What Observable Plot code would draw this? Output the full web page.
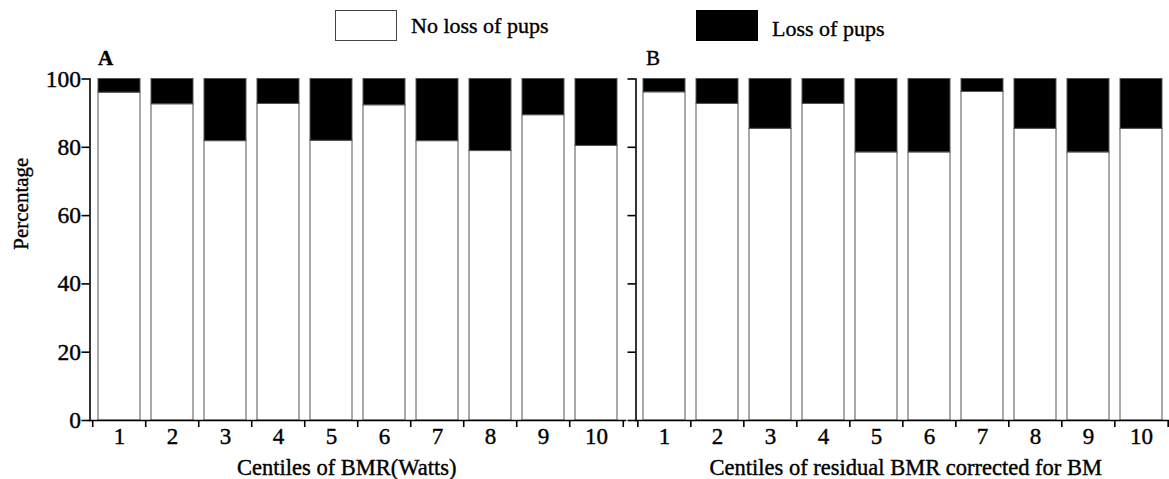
<!DOCTYPE html>
<html>
<head>
<meta charset="utf-8">
<script src="https://cdn.jsdelivr.net/npm/d3@7"></script>
<script src="https://cdn.jsdelivr.net/npm/@observablehq/plot@0.6"></script>
<style>
  html, body { margin: 0; padding: 0; background: white; }
  #root { position: relative; width: 1169px; height: 479px; overflow: hidden; font-family: "Liberation Serif", serif; color: black; }
  #root svg, #root svg text { font-family: "Liberation Serif", serif !important; }
  .sw { position: absolute; box-sizing: border-box; }
  .lt { position: absolute; font-size: 22px; line-height: 22px; white-space: nowrap; -webkit-text-stroke: 0.35px black; }
  .panel { position: absolute; top: 40px; }
</style>
</head>
<body>
<div id="root">
  <div class="sw" style="left:335px;top:10px;width:62px;height:31px;background:white;border:1.5px solid #444;"></div>
  <div class="lt" id="lg0" style="left:411px;top:14.5px;"></div>
  <div class="sw" style="left:696px;top:10px;width:62px;height:31px;background:black;"></div>
  <div class="lt" id="lg1" style="left:772px;top:17.5px;"></div>
  <div class="panel" id="pa" style="left:0px;"></div>
  <div class="panel" id="pb" style="left:627px;"></div>
</div>
<script>
const categories = ["1","2","3","4","5","6","7","8","9","10"];
const groups = ["No loss of pups", "Loss of pups"];
const yTicks = [0, 20, 40, 60, 80, 100];
const panelLetters = ["A", "B"];
const xLabels = ["Centiles of BMR(Watts)", "Centiles of residual BMR corrected for BM"];
const yLabel = "Percentage";

// Panel A: centiles of BMR
const noLossA = [96.0, 92.6, 81.8, 92.7, 81.9, 92.3, 81.8, 78.9, 89.4, 80.4];
const lossA   = [4.0, 7.4, 18.2, 7.3, 18.1, 7.7, 18.2, 21.1, 10.6, 19.6];
// Panel B: centiles of residual BMR
const noLossB = [96.1, 92.7, 85.4, 92.7, 78.5, 78.5, 96.2, 85.4, 78.5, 85.4];
const lossB   = [3.9, 7.3, 14.6, 7.3, 21.5, 21.5, 3.8, 14.6, 21.5, 14.6];

document.getElementById("lg0").textContent = groups[0];
document.getElementById("lg1").textContent = groups[1];

const FF = "Liberation Serif";
const TS = {textStroke: "black", textStrokeWidth: 0.4};
const LS = {fill: "black", stroke: "black", strokeWidth: 0.4, fontFamily: FF};

function panel(noLoss, loss, o) {
  const data = [];
  categories.forEach((c, i) => {
    data.push({c, g: groups[0], v: noLoss[i]});
    data.push({c, g: groups[1], v: loss[i]});
  });
  const step = (o.width - o.ml - o.mr) / categories.length;
  const marks = [
    Plot.barY(data, {x: "c", y: "v", fill: "g", stroke: "#555", strokeWidth: 1}),
    Plot.frame({anchor: "left", strokeWidth: 1.6}),
    Plot.frame({anchor: "bottom", strokeWidth: 1.6}),
    Plot.axisY({ticks: yTicks, tickSize: 8, tickPadding: 1, strokeWidth: 1.6, fontSize: 23.5, fontFamily: FF, ...TS,
      tickFormat: o.labels ? (d => d) : (() => ""), label: null}),
    Plot.axisX({tickSize: 0, tickPadding: 7, fontSize: 23, fontFamily: FF, ...TS, label: null}),
    Plot.axisX(categories, {tickSize: 7, strokeWidth: 1.6, tickFormat: () => "", dx: -step / 2, label: null}),
    Plot.axisX([categories[categories.length - 1]], {tickSize: 7, strokeWidth: 1.6, tickFormat: () => "", dx: step / 2, label: null}),
    Plot.text([o.letter], {text: d => d, frameAnchor: "top-left", textAnchor: "start", lineAnchor: "middle", ...LS,
      dx: o.letterDx, dy: -21, fontSize: 21, fontWeight: o.bold ? "bold" : "normal"}),
    Plot.text([o.xlabel], {text: d => d, frameAnchor: "bottom", lineAnchor: "middle", dx: o.labelDx, dy: 47, fontSize: 22.5, ...LS})
  ];
  if (o.labels) {
    marks.push(Plot.text([yLabel], {text: d => d, frameAnchor: "left", rotate: -90, dx: -69, fontSize: 21, ...LS}));
  }
  return Plot.plot({
    width: o.width, height: 439,
    marginLeft: o.ml, marginRight: o.mr, marginTop: 38.5, marginBottom: 59,
    style: {fontFamily: FF, fontSize: "22px", color: "black", background: "transparent", overflow: "visible"},
    x: {type: "band", domain: categories, paddingInner: 0.2, paddingOuter: 0.1, axis: null},
    y: {domain: [0, 100], axis: null},
    color: {domain: groups, range: ["white", "black"]},
    marks
  });
}

document.getElementById("pa").appendChild(panel(noLossA, lossA,
  {width: 627, ml: 89.5, mr: 2, letter: panelLetters[0], xlabel: xLabels[0], labels: true, letterDx: 8, bold: true, labelDx: -11}));
document.getElementById("pb").appendChild(panel(noLossB, lossB,
  {width: 542, ml: 8.5, mr: 0, letter: panelLetters[1], xlabel: xLabels[1], labels: false, letterDx: 10, bold: false, labelDx: 3}));
</script>
</body>
</html>
